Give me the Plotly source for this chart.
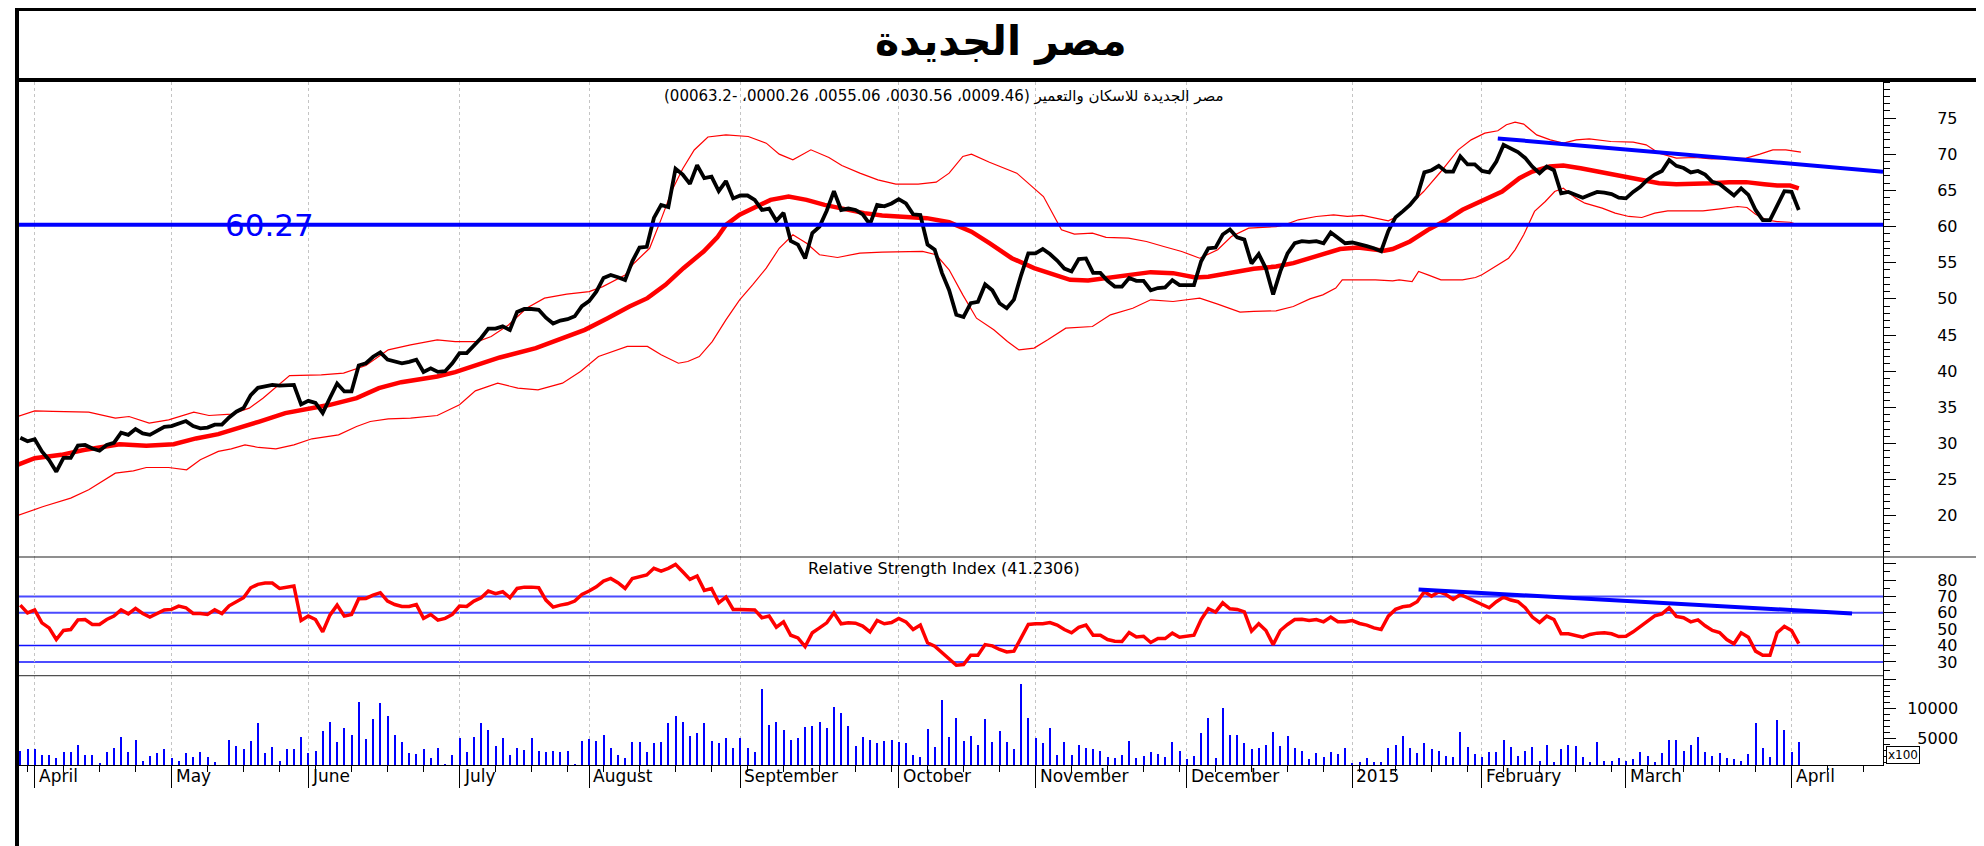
import plotly.graph_objects as go

# ---------------- data (x = trading-day index, 0 = 30 Mar 2014 ... 247 = 2 Apr 2015) -------------
close = [
    30.8, 30.3, 30.6, 28.9, 27.7, 26.1, 28.0, 28.0, 29.7, 29.8,
    29.3, 29.0, 29.8, 30.1, 31.5, 31.2, 32.0, 31.4, 31.2, 31.7,
    32.3, 32.4, 32.8, 33.1, 32.4, 32.1, 32.2, 32.6, 32.6, 33.6,
    34.4, 34.9, 36.7, 37.7, 37.9, 38.1, 38.0, 38.1, 38.1, 35.4,
    35.9, 35.6, 34.2, 36.3, 38.3, 37.2, 37.2, 40.8, 41.1, 42.0,
    42.6, 41.6, 41.3, 41.1, 41.3, 41.6, 39.9, 40.4, 39.9, 40.0,
    41.1, 42.5, 42.5, 43.6, 44.6, 45.9, 45.9, 46.2, 45.7, 48.2,
    48.6, 48.6, 48.5, 47.4, 46.6, 47.0, 47.2, 47.6, 49.0, 49.7,
    51.0, 52.9, 53.3, 53.0, 52.6, 55.2, 57.1, 57.2, 61.2, 63.0,
    62.7, 68.0, 67.2, 65.9, 68.5, 66.7, 66.9, 64.9, 66.3, 63.9,
    64.3, 64.3, 63.7, 62.3, 62.5, 60.8, 61.9, 58.0, 57.5, 55.6,
    59.1, 60.0, 62.2, 64.9, 62.3, 62.5, 62.3, 61.7, 60.3, 63.0,
    62.8, 63.2, 63.8, 63.2, 61.7, 61.6, 57.5, 56.8, 53.6, 51.2,
    47.8, 47.5, 49.4, 49.6, 52.0, 51.2, 49.4, 48.7, 49.9, 53.3,
    56.3, 56.3, 56.9, 56.2, 55.3, 54.2, 53.8, 55.5, 55.6, 53.6,
    53.6, 52.5, 51.7, 51.7, 52.9, 52.5, 52.5, 51.2, 51.5, 51.6,
    52.6, 51.9, 51.9, 51.9, 55.2, 57.0, 57.1, 58.9, 59.6, 58.5,
    58.2, 54.9, 56.2, 54.2, 50.6, 53.8, 56.3, 57.7, 58.0, 57.9,
    58.0, 57.7, 59.2, 58.5, 57.7, 57.8, 57.6, 57.3, 57.0, 56.6,
    59.4, 61.3, 62.1, 63.0, 64.2, 67.5, 67.8, 68.4, 67.6, 67.6,
    69.7, 68.6, 68.6, 67.7, 67.5, 69.0, 71.3, 70.8, 70.3, 69.5,
    68.3, 67.4, 68.3, 67.8, 64.6, 64.8, 64.4, 64.0, 64.4, 64.8,
    64.7, 64.5, 64.0, 63.9, 64.8, 65.5, 66.5, 67.2, 67.7, 69.2,
    68.4, 68.1, 67.5, 67.7, 67.2, 66.2, 65.9, 65.1, 64.3, 65.3,
    64.4, 62.3, 60.9, 60.9, 63.0, 64.9, 64.8, 62.3]

rsi = [
    64.7, 60.0, 61.8, 53.9, 50.8, 43.7, 49.2, 49.8, 55.7, 55.9,
    52.9, 52.9, 55.9, 58.0, 61.8, 59.4, 62.7, 59.6, 57.4, 59.6,
    61.8, 62.1, 64.1, 63.1, 59.6, 59.6, 59.0, 61.8, 59.6, 64.3,
    66.8, 69.2, 75.3, 77.4, 78.2, 78.2, 74.9, 75.7, 76.4, 55.3,
    58.0, 55.9, 48.4, 58.6, 64.7, 58.0, 59.0, 68.6, 68.8, 70.8,
    72.3, 67.2, 65.1, 63.9, 63.9, 65.1, 56.6, 59.0, 55.5, 56.6,
    59.0, 64.1, 63.9, 67.2, 69.2, 73.3, 71.7, 72.9, 69.2, 74.9,
    75.7, 75.7, 75.3, 67.8, 63.5, 64.7, 65.5, 67.2, 71.2, 73.3,
    75.9, 79.4, 81.0, 78.4, 74.9, 81.0, 82.3, 83.1, 87.2, 85.5,
    87.2, 89.6, 85.1, 80.4, 82.5, 73.7, 74.9, 66.1, 69.6, 62.1,
    62.1, 62.1, 61.8, 57.0, 58.0, 51.2, 54.5, 46.3, 44.7, 39.4,
    47.8, 50.8, 53.9, 60.0, 53.3, 53.9, 53.7, 51.9, 48.4, 55.3,
    53.3, 54.1, 56.6, 54.5, 49.8, 52.5, 41.7, 39.6, 35.5, 32.1,
    28.0, 28.4, 34.1, 34.1, 40.6, 39.8, 37.6, 36.1, 36.6, 44.7,
    52.9, 53.3, 53.3, 54.1, 52.5, 49.8, 47.8, 51.2, 52.5, 46.3,
    46.3, 43.7, 42.7, 42.5, 48.0, 45.3, 45.7, 41.9, 44.3, 44.3,
    47.6, 45.1, 45.7, 46.3, 55.9, 62.5, 60.4, 66.1, 62.5, 62.1,
    60.6, 48.8, 53.3, 49.2, 40.6, 49.2, 52.9, 55.9, 56.1, 55.3,
    55.9, 54.5, 57.4, 54.5, 54.5, 55.3, 53.5, 52.5, 50.8, 49.8,
    58.0, 62.1, 63.7, 64.3, 66.8, 72.9, 70.2, 72.9, 71.2, 68.2,
    71.2, 69.2, 67.6, 65.5, 63.1, 66.8, 69.6, 67.8, 66.8, 63.1,
    57.4, 54.1, 58.0, 55.9, 47.2, 47.2, 46.1, 45.1, 46.8, 47.6,
    47.8, 47.2, 45.5, 45.7, 48.4, 51.7, 54.5, 58.2, 59.4, 63.1,
    57.8, 57.0, 54.5, 55.7, 52.1, 49.2, 48.0, 43.7, 41.1, 47.8,
    45.1, 36.6, 34.1, 34.1, 47.8, 51.7, 49.2, 41.2]

volume = [  # x100
    2960, 3180, 3180, 2280, 2280, 1720, 2730, 2730, 3970, 2280,
    2280, 880, 2730, 3410, 5370, 2730, 4810, 1270, 2120, 2560,
    3180, 1720, 1270, 2560, 1890, 2730, 1890, 990, 600, 4810,
    3800, 3180, 4640, 7570, 2560, 3580, 1270, 3180, 3300, 5260,
    2560, 2960, 6330, 7790, 4420, 6780, 5660, 11280, 4980, 8350,
    11110, 8800, 5660, 4420, 2560, 2400, 3180, 1720, 3410, 710,
    2170, 5090, 2730, 5370, 7570, 6440, 3740, 5040, 2280, 3350,
    3130, 5040, 2960, 2730, 2960, 2730, 2960, 710, 4640, 4980,
    4590, 5660, 3410, 2280, 1720, 4420, 4420, 2730, 4190, 4420,
    7570, 8800, 7790, 5430, 5880, 7570, 4590, 4190, 5040, 3410,
    5040, 3410, 2730, 13350, 7290, 7790, 6440, 4810, 5040, 6950,
    7120, 7790, 6890, 10430, 9420, 7120, 3740, 5260, 4810, 4190,
    4640, 4810, 4420, 4190, 2280, 1890, 6670, 3580, 11500, 5260,
    8580, 4640, 5430, 3970, 8350, 4420, 6270, 4420, 3180, 14200,
    8580, 5040, 4190, 6890, 2170, 4420, 2280, 3970, 3410, 3180,
    2960, 1890, 1720, 2280, 4590, 1720, 2120, 2730, 2340, 1890,
    4420, 2960, 1500, 2120, 5880, 8580, 1720, 10260, 5660, 5660,
    4190, 3180, 3350, 3970, 6100, 3740, 5430, 3350, 2960, 1500,
    2510, 1890, 2730, 2340, 3410, 880, 1050, 1720, 1050, 1050,
    3350, 3970, 5430, 3410, 2560, 4190, 3180, 2960, 2120, 1890,
    6100, 3580, 2340, 1890, 2730, 2730, 4810, 3580, 2120, 2960,
    3580, 1270, 3970, 1050, 3180, 3970, 3800, 1890, 1050, 4420,
    1270, 1270, 1720, 1270, 1500, 2730, 2120, 1050, 2510, 4810,
    4810, 2960, 3970, 5260, 2730, 2120, 2510, 1720, 1500, 1270,
    2340, 7570, 3350, 1890, 8130, 6500, 2730, 4420]

sma_x = [-0.4, 2.0, 5.7, 8.8, 13.8, 17.5, 21.3, 24.4, 27.5, 31.2, 33.1, 36.8, 40.5, 43.0, 46.7,
         49.8, 52.9, 57.9, 60.4, 63.5, 66.6, 71.6, 75.3, 78.4, 81.5, 84.6, 87.1, 89.6, 92.1, 94.9,
         96.8, 98.0, 99.9, 102.3, 104.2, 106.7, 109.2, 111.7, 114.8, 117.2, 119.7, 123.5, 125.9,
         129.0, 132.1, 134.6, 137.7, 140.8, 143.3, 145.8, 148.3, 150.8, 153.9, 157.0, 160.1, 163.2,
         165.0, 168.2, 171.3, 174.4, 176.8, 179.1, 181.5, 183.3, 185.8, 188.2, 189.4, 190.6, 193.0,
         195.5, 197.9, 200.3, 203.4, 205.8, 208.2, 210.0, 212.4, 214.3, 216.7, 219.1, 221.5, 224.6,
         227.6, 230.0, 232.5, 234.9, 237.3, 239.7, 242.2, 244.0, 245.8, 247.0]
sma_y = [27.05, 27.97, 28.43, 29.1, 29.9, 29.7, 29.9, 30.7, 31.3, 32.35, 33.0, 34.2, 34.9, 35.35,
         36.27, 37.65, 38.48, 39.27, 39.87, 40.88, 41.9, 43.2, 44.57, 45.72, 47.3, 48.95, 50.1, 51.95,
         54.25, 56.56, 58.5, 60.24, 61.63, 62.78, 63.7, 64.16, 63.7, 63.0, 62.32, 61.86, 61.54, 61.4,
         61.17, 60.6, 59.3, 57.7, 55.63, 54.25, 53.42, 52.64, 52.55, 52.87, 53.42, 53.7, 53.56, 52.96,
         53.05, 53.56, 54.16, 54.48, 54.94, 55.63, 56.3, 56.9, 57.1, 56.79, 56.65, 56.9, 57.94, 59.55,
         60.8, 62.32, 63.7, 64.85, 66.7, 67.62, 68.31, 68.45, 68.08, 67.62, 67.07, 66.47, 66.0, 65.87,
         65.87, 66.0, 66.15, 66.15, 65.87, 65.68, 65.68, 65.3]

upper_x = [-0.4, 2.0, 4.5, 9.5, 13.2, 15.1, 17.9, 20.6, 24.1, 26.2, 29.3, 31.8, 33.7, 37.4, 41.8,
           44.9, 48.0, 51.1, 54.2, 57.9, 60.4, 63.5, 65.4, 67.8, 70.3, 72.8, 75.9, 79.0, 80.9, 84.0,
           85.2, 87.4, 89.0, 90.5, 92.0, 93.6, 95.5, 98.0, 101.1, 103.6, 105.4, 107.3, 109.8, 112.3,
           114.1, 116.6, 119.1, 121.6, 124.7, 127.2, 129.0, 130.9, 132.1, 134.6, 138.4, 140.2, 142.1,
           144.6, 146.4, 148.9, 150.8, 153.9, 156.4, 158.8, 161.3, 163.8, 166.3, 168.2, 170.6, 174.4,
           175.6, 177.5, 180.0, 182.4, 184.3, 186.4, 188.2, 190.0, 191.2, 193.0, 194.9, 197.3, 199.7,
           201.5, 203.4, 205.2, 206.4, 207.6, 208.8, 210.6, 212.5, 214.3, 216.1, 217.9, 220.9, 224.0,
           225.8, 227.6, 230.0, 232.5, 234.9, 237.3, 239.7, 241.6, 243.4, 245.2, 247.3]
upper_y = [33.73, 34.52, 34.43, 34.33, 33.5, 33.73, 32.81, 33.27, 34.33, 33.87, 34.06, 34.89, 36.27,
           39.4, 39.5, 39.73, 40.79, 42.95, 43.65, 44.34, 44.1, 44.1, 44.8, 46.4, 48.7, 50.1, 50.65,
           51.0, 51.7, 53.3, 54.9, 57.0, 61.0, 65.0, 68.0, 70.6, 72.4, 72.69, 72.46, 71.54, 70.02,
           69.23, 70.62, 69.56, 68.45, 67.39, 66.47, 65.87, 65.87, 66.15, 67.39, 69.7, 70.02, 68.9,
           67.39, 65.87, 64.16, 59.55, 58.95, 59.09, 58.5, 58.4, 57.94, 57.25, 56.56, 55.63, 56.79,
           58.63, 59.78, 60.0, 60.24, 60.94, 61.4, 61.63, 61.4, 61.54, 61.17, 60.8, 61.4, 63.0, 64.85,
           67.62, 70.62, 72.0, 72.92, 73.25, 74.08, 74.44, 74.17, 72.69, 72.0, 71.54, 72.0, 72.14,
           71.77, 71.68, 71.31, 70.16, 69.46, 69.56, 69.37, 69.46, 69.46, 70.02, 70.62, 70.62, 70.3]

lower_x = [-0.4, 3.2, 7.0, 9.5, 13.2, 15.7, 17.5, 20.6, 23.1, 25.0, 27.5, 29.3, 31.2, 33.1, 35.5,
           38.0, 40.5, 44.2, 46.7, 48.6, 51.1, 54.2, 57.9, 61.0, 63.2, 66.3, 69.1, 71.9, 75.3, 77.8,
           80.3, 84.3, 87.1, 89.0, 91.4, 92.7, 94.3, 96.1, 98.0, 99.9, 101.7, 103.6, 105.4, 107.3,
           109.2, 111.0, 113.5, 116.6, 119.7, 123.5, 125.3, 127.2, 129.0, 130.9, 132.8, 135.2, 137.1,
           138.7, 140.8, 142.7, 145.2, 148.9, 151.4, 154.5, 157.0, 160.1, 163.8, 166.3, 169.4, 171.3,
           174.4, 176.8, 179.1, 180.9, 182.7, 183.6, 185.8, 188.2, 190.6, 191.5, 193.3, 194.2, 195.5,
           197.3, 200.3, 202.1, 203.0, 205.2, 206.7, 207.6, 208.8, 210.3, 211.8, 213.1, 214.3, 216.1,
           217.3, 219.7, 221.5, 223.4, 225.2, 227.0, 228.8, 231.9, 233.7, 236.1, 238.5, 239.8, 241.0,
           242.5, 244.0, 245.8, 247.3]
lower_y = [20.04, 21.28, 22.44, 23.6, 25.9, 26.22, 26.68, 26.68, 26.36, 27.74, 28.9, 29.26, 29.8,
           29.45, 29.26, 29.8, 30.65, 31.2, 32.35, 33.04, 33.4, 33.5, 33.87, 35.35, 37.28, 38.34,
           37.65, 37.42, 38.34, 39.96, 42.03, 43.42, 43.42, 42.27, 41.1, 41.34, 42.03, 44.1, 47.1,
           49.87, 51.95, 54.25, 57.0, 58.86, 57.7, 56.1, 55.73, 56.33, 56.47, 56.47, 56.56, 56.1,
           54.02, 50.56, 47.33, 45.72, 44.1, 42.95, 43.2, 44.34, 45.95, 46.18, 47.8, 48.7, 49.87,
           49.64, 50.1, 49.27, 48.17, 48.26, 48.35, 48.95, 50.0, 50.56, 51.5, 52.64, 52.64, 52.64,
           52.5, 52.64, 52.4, 53.79, 53.33, 52.64, 52.64, 52.96, 53.33, 54.7, 55.63, 56.79, 58.86,
           62.1, 63.47, 64.85, 65.3, 63.9, 63.24, 62.55, 61.86, 61.4, 61.26, 61.86, 62.18, 62.18,
           62.18, 62.46, 62.78, 62.64, 61.72, 60.94, 60.7, 60.6, 60.15]

month_idx = [2, 21, 40, 61, 79, 100, 122, 141, 162, 185, 203, 223, 246]
month_lbl = ["April", "May", "June", "July", "August", "September", "October",
             "November", "December", "2015", "February", "March", "April"]

support_level = 60.27
trend_price_x = [205.2, 258.7]
trend_price_y = [72.2, 67.6]
trend_rsi_x = [194.2, 254.4]
trend_rsi_y = [74.3, 59.6]
rsi_levels = [70, 60, 40, 30]

price_ticks = [20, 25, 30, 35, 40, 45, 50, 55, 60, 65, 70, 75]
rsi_ticks = [30, 40, 50, 60, 70, 80, 90]
rsi_ticktext = ["30", "40", "50", "60", "70", "80", ""]
vol_ticks = [5000, 10000, 15000]
vol_ticktext = ["\u20075000", "10000", ""]

title_text = "مصر الجديدة"
subtitle_text = "مصر الجديدة للاسكان والتعمير (0009.46، 0030.56، 0055.06، 0000.26، -00063.2)"
rsi_title = "Relative Strength Index (41.2306)"

# ---------------- layout geometry ----------------
FONT = "DejaVu Sans"
W, H = 1984, 846
ML, MR, MT, MB = 10, 109, 74, 89
PW = W - ML - MR
PH = H - MT - MB


def px(x):
    return (x - ML) / PW


def py(y):
    return (H - MB - y) / PH


days = list(range(len(close)))
XR = [-0.32, 258.7]

fig = go.Figure()
# main panel
fig.add_trace(go.Scatter(x=lower_x, y=lower_y, mode="lines", line=dict(color="#ff0000", width=1.2),
                         xaxis="x", yaxis="y", hoverinfo="skip"))
fig.add_trace(go.Scatter(x=upper_x, y=upper_y, mode="lines", line=dict(color="#ff0000", width=1.2),
                         xaxis="x", yaxis="y", hoverinfo="skip"))
fig.add_trace(go.Scatter(x=sma_x, y=sma_y, mode="lines", line=dict(color="#ff0000", width=4.5),
                         xaxis="x", yaxis="y", hoverinfo="skip"))
fig.add_trace(go.Scatter(x=days, y=close, mode="lines", line=dict(color="#000000", width=3.8),
                         xaxis="x", yaxis="y"))
fig.add_trace(go.Scatter(x=trend_price_x, y=trend_price_y, mode="lines",
                         line=dict(color="#0000ff", width=4), xaxis="x", yaxis="y"))
# RSI panel
fig.add_trace(go.Scatter(x=days, y=rsi, mode="lines", line=dict(color="#ff0000", width=3.5),
                         xaxis="x2", yaxis="y2"))
fig.add_trace(go.Scatter(x=trend_rsi_x, y=trend_rsi_y, mode="lines",
                         line=dict(color="#0000ff", width=4), xaxis="x2", yaxis="y2"))
# volume panel
fig.add_trace(go.Bar(x=days, y=volume, width=0.28, marker=dict(color="#0000ff", line=dict(width=0)),
                     xaxis="x3", yaxis="y3"))

xcommon = dict(range=XR, tickmode="array", tickvals=month_idx, showgrid=True, gridcolor="#c4c4c4",
               griddash="dot", gridwidth=1, zeroline=False, showticklabels=False, ticks="",
               showline=False, fixedrange=True)
ycommon = dict(side="right", showline=True, linecolor="#000000", linewidth=1, ticks="outside",
               ticklen=12, tickcolor="#000000", tickwidth=1, showgrid=False, zeroline=False,
               tickfont=dict(family=FONT, size=16, color="#000000"), fixedrange=True)

dom_main = [py(549), 1.0]
dom_rsi = [py(667.7), py(549)]
dom_vol = [0.0, py(667.7)]

fig.update_layout(
    width=W, height=H, margin=dict(l=ML, r=MR, t=MT, b=MB, pad=0),
    paper_bgcolor="white", plot_bgcolor="white", showlegend=False, bargap=0,
    font=dict(family=FONT, color="#000000"),
    xaxis=dict(xcommon, domain=[0, 1], anchor="y"),
    xaxis2=dict(xcommon, domain=[0, 1], anchor="y2", matches="x"),
    xaxis3=dict(xcommon, domain=[0, 1], anchor="y3", matches="x", showline=True, linecolor="#000000",
                linewidth=1, ticks="outside", ticklen=22, tickcolor="#000000", tickwidth=1,
                minor=dict(ticks="outside", ticklen=6, tickcolor="#000000", tickwidth=1,
                           tickmode="linear", tick0=1, dtick=5, showgrid=False)),
    yaxis=dict(ycommon, domain=dom_main, anchor="x", range=[14.3, 80.0], tickmode="array",
               tickvals=price_ticks, ticklabelstandoff=38,
               minor=dict(ticks="outside", ticklen=6, tickcolor="#000000", tickmode="linear",
                          tick0=0, dtick=1, showgrid=False)),
    yaxis2=dict(ycommon, domain=dom_rsi, anchor="x2", range=[21.6, 94.1], tickmode="array",
                tickvals=rsi_ticks, ticktext=rsi_ticktext, ticklabelstandoff=38,
                minor=dict(ticks="outside", ticklen=6, tickcolor="#000000", tickmode="linear",
                           tick0=0, dtick=5, showgrid=False)),
    yaxis3=dict(ycommon, domain=dom_vol, anchor="x3", range=[500, 15600], tickmode="array",
                tickvals=vol_ticks, ticktext=vol_ticktext, ticklabelstandoff=8,
                minor=dict(ticks="outside", ticklen=6, tickcolor="#000000", tickmode="linear",
                           tick0=0, dtick=1000, showgrid=False)),
)

shapes = []
# support line on price panel
shapes.append(dict(type="line", xref="x domain", yref="y", x0=0, x1=1, y0=support_level,
                   y1=support_level, line=dict(color="#0000ff", width=4), layer="above"))
# RSI levels
for lv in rsi_levels:
    strong = lv in (70, 60)
    shapes.append(dict(type="line", xref="x2 domain", yref="y2", x0=0, x1=1, y0=lv, y1=lv,
                       line=dict(color="#4a4aff" if strong else "#1010ff", width=2 if strong else 1.5),
                       layer="below"))
# panel separators
shapes.append(dict(type="line", xref="paper", yref="paper", x0=px(9), x1=px(1968), y0=py(549),
                   y1=py(549), line=dict(color="#202020", width=1.2)))
shapes.append(dict(type="line", xref="paper", yref="paper", x0=px(9), x1=px(1875), y0=py(667.7),
                   y1=py(667.7), line=dict(color="#505050", width=1.2)))
# title divider and outer frame
shapes.append(dict(type="line", xref="paper", yref="paper", x0=px(8), x1=px(1972), y0=py(72),
                   y1=py(72), line=dict(color="#000000", width=4)))
shapes.append(dict(type="line", xref="paper", yref="paper", x0=px(9), x1=px(9), y0=py(845),
                   y1=py(0), line=dict(color="#000000", width=4)))
shapes.append(dict(type="line", xref="paper", yref="paper", x0=px(1971), x1=px(1971), y0=py(845),
                   y1=py(0), line=dict(color="#000000", width=6)))
shapes.append(dict(type="line", xref="paper", yref="paper", x0=px(7), x1=px(1974), y0=py(1.5),
                   y1=py(1.5), line=dict(color="#000000", width=3)))
shapes.append(dict(type="line", xref="paper", yref="paper", x0=px(7), x1=px(1974), y0=py(844),
                   y1=py(844), line=dict(color="#000000", width=3)))
fig.update_layout(shapes=shapes)

ann = []
ann.append(dict(text="<b>" + title_text + "</b>", xref="paper", yref="paper", x=px(993), y=py(33),
                xanchor="center", yanchor="middle", showarrow=False,
                font=dict(family=FONT, size=41, color="#000000")))
ann.append(dict(text="\u202b" + subtitle_text + "\u202c", xref="paper", yref="paper", x=px(936),
                y=py(88), xanchor="center", yanchor="middle", showarrow=False,
                font=dict(family=FONT, size=15, color="#000000")))
ann.append(dict(text=rsi_title, xref="paper", yref="paper", x=px(936), y=py(560),
                xanchor="center", yanchor="middle", showarrow=False,
                font=dict(family=FONT, size=16, color="#000000")))
ann.append(dict(text=f"{support_level:.2f}", xref="x", yref="y", x=34.6, y=support_level,
                xanchor="center", yanchor="middle", showarrow=False,
                font=dict(family=FONT, size=31, color="#0000ff")))
for mi, ml in zip(month_idx, month_lbl):
    ann.append(dict(text=ml, xref="x3", yref="paper", x=mi, y=0, xanchor="left", yanchor="middle",
                    xshift=2, yshift=-11, showarrow=False,
                    font=dict(family=FONT, size=17, color="#000000")))
ann.append(dict(text="x100", xref="paper", yref="paper", x=px(1878), y=py(756), xanchor="left",
                yanchor="bottom", showarrow=False, bordercolor="#000000", borderwidth=1, borderpad=1,
                bgcolor="white", font=dict(family=FONT, size=12, color="#000000")))
fig.update_layout(annotations=ann)

fig.write_html("out.html", config={"displayModeBar": False})
